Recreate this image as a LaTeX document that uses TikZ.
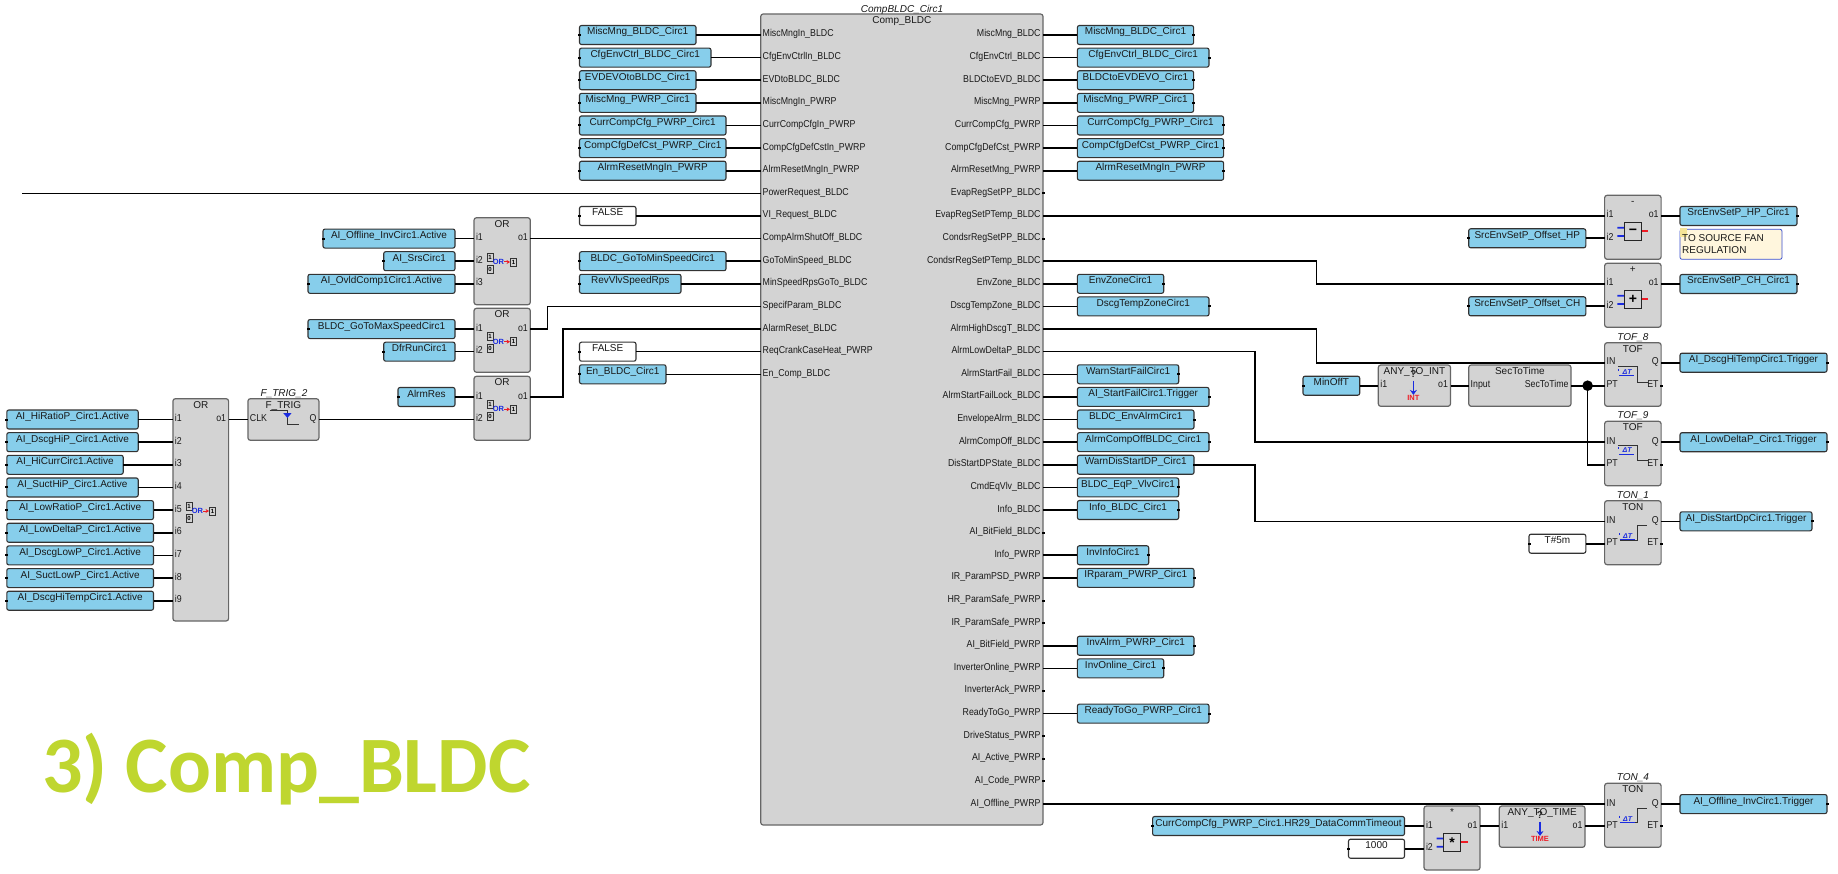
\documentclass[tikz,border=0pt]{standalone}
\usepackage{fontspec}
\setmainfont{Liberation Sans}
\newfontfamily\pinfont[FakeStretch=0.88]{Liberation Sans}
\newfontfamily\hugefont{Carlito}
\usetikzlibrary{arrows.meta}
\definecolor{varblue}{HTML}{87CEEB}
\definecolor{blockgrey}{HTML}{D3D3D3}
\definecolor{titlelime}{HTML}{BFD62F}
\definecolor{notefill}{HTML}{FFF6DD}
\definecolor{noteedge}{HTML}{3A50D0}
\definecolor{iconblue}{HTML}{1A2BE0}
\definecolor{iconred}{HTML}{EE1C25}
\tikzset{
  boxbase/.style={rectangle,rounded corners=2pt,draw=black!80,line width=1.1pt,inner sep=0pt,outer sep=0pt,
     minimum height=19pt,text height=7pt,text depth=7pt,font=\fontsize{10}{11}\selectfont,text=black!90},
  varbox/.style={boxbase,fill=varblue},
  constbox/.style={boxbase,fill=white},
  blockbox/.style={rectangle,rounded corners=2.5pt,draw=black!60,line width=1.2pt,fill=blockgrey,inner sep=0pt,outer sep=0pt},
  pinlab/.style={inner sep=0pt,outer sep=0pt,font=\pinfont\fontsize{10}{11}\selectfont,text=black!90},
  headlab/.style={inner sep=0pt,outer sep=0pt,anchor=base,font=\fontsize{10}{11}\selectfont,text=black!90},
  instlab/.style={headlab,font=\itshape\fontsize{10}{11}\selectfont},
  wire/.style={line width=1.6pt,black,line cap=butt,line join=miter},
  bitbox/.style={rectangle,draw=black!80,fill=blockgrey,line width=.9pt,inner sep=0pt,minimum width=6pt,minimum height=8pt,font=\bfseries\fontsize{6}{6}\selectfont},
  iconlab/.style={inner sep=0pt,outer sep=0pt,font=\bfseries\fontsize{7.5}{8}\selectfont}
}
\newcommand\rw[1]{\fpeval{35+22.62*(#1)}}
\newcommand\pinstub[1]{\fill[black] ([xshift=-1.5pt,yshift=-1pt]#1) rectangle ++(3pt,2pt);}
% name, left, right, y, text
\newcommand\VB[6][varbox]{\node[#1,minimum width={(#4-#3)*1pt}] (#2) at ({(#3+#4)/2},#5) {#6};}
\newcommand\InPin[4]{\coordinate (#1) at (#2,#3); \node[pinlab,anchor=base west] (#1t) at (#2+2,#3+2) {#4};}
\newcommand\OutPin[4]{\coordinate (#1) at (#2,#3); \node[pinlab,anchor=base east] (#1t) at (#2-2.5,#3+2) {#4};}
% name,left,right,top,bottom,head
\newcommand\BLK[6]{\node[blockbox,minimum width={(#3-#2)*1pt},minimum height={(#5-#4)*1pt}] (#1) at ({(#2+#3)/2},{(#4+#5)/2}) {};
  \node[headlab] (#1h) at ({(#2+#3)/2},#4+9.6) {#6};}
\newcommand\Inst[4]{\node[instlab] (#1) at (#2,#3+3.6) {#4};}
\newcommand\ORicon[3]{%
  \node[bitbox] (#1a) at (#2-12,#3-5) {1};
  \node[bitbox] (#1b) at (#2-12,#3+7) {0};
  \node[iconlab,text=iconblue] (#1c) at (#2-3.5,#3) {OR};
  \node[bitbox] (#1d) at (#2+11.5,#3) {1};
  \draw[iconred,line width=1pt,-{Stealth[length=3.5pt,width=4pt]}] (#1c.east) -- (#1d.west);}
\newcommand\DeltaT[3]{%
  \node[inner sep=0pt,font=\bfseries\itshape\fontsize{7}{7}\selectfont,text=iconblue] (#1) at (#2,#3) {ΔT};
  \draw[iconblue,line width=.7pt] (#2-8,#3+3.8) -- (#2+7,#3+3.8) (#2-8.5,#3-3) -- (#2-8.5,#3-1);}
\newcommand\TOFicon[4]{% name,left,top
  \draw[line width=1pt,black!80] (#2+13.7,#3+24) -- (#2+33,#3+24) -- (#2+33,#3+39.6) -- (#2+43,#3+39.6);
  \DeltaT{#1}{#2+22.5}{#3+29}}
\newcommand\TONicon[3]{%
  \draw[line width=1pt,black!80] (#2+15.4,#3+39.3) -- (#2+33,#3+39.3) -- (#2+33,#3+25) -- (#2+42,#3+25);
  \DeltaT{#1}{#2+23}{#3+35.3}}
\newcommand\ANYicon[4]{% name,cx,top,label
  \node[inner sep=0pt,font=\bfseries\fontsize{10}{10}\selectfont,text=black!85] (#1q) at (#2-1,#3+9) {?};
  \coordinate (#1s) at (#2-1,#3+15.5);
  \node[iconlab,text=iconred] (#1l) at (#2-1,#3+32.5) {#4};
  \draw[iconblue,line width=1.3pt,-{Stealth[length=5pt,width=7pt]}] (#1s) -- (#1l.north);}
\newcommand\MATHicon[4]{% name,cx,top,symbol
  \fill[iconblue] (#2-15.5,#3+31.6) rectangle (#2-7,#3+33.4) (#2-15.5,#3+39.9) rectangle (#2-7,#3+41.7);
  \fill[iconred] (#2+8,#3+35.1) rectangle (#2+15.5,#3+37.1);
  \node[rectangle,draw=black!85,fill=blockgrey,line width=1pt,inner sep=0pt,minimum width=16.5pt,minimum height=17.5pt,font=\bfseries\fontsize{14}{14}\selectfont] (#1) at (#2,#3+36.4) {#4};}
\begin{document}\catcode`\_=12
\begin{tikzpicture}[x=1pt,y=-1pt]
\useasboundingbox (0,0) rectangle (1838,874);
\fill[white] (0,0) rectangle (1838,874);

% ---- main block
\BLK{main}{760.7}{1043}{14}{825}{Comp_BLDC}
\Inst{maininst}{902}{9}{CompBLDC_Circ1}
\foreach \n/\t in {0/MiscMngIn_BLDC,1/CfgEnvCtrlIn_BLDC,2/EVDtoBLDC_BLDC,3/MiscMngIn_PWRP,4/CurrCompCfgIn_PWRP,5/CompCfgDefCstIn_PWRP,6/AlrmResetMngIn_PWRP,7/PowerRequest_BLDC,8/VI_Request_BLDC,9/CompAlrmShutOff_BLDC,10/GoToMinSpeed_BLDC,11/MinSpeedRpsGoTo_BLDC,12/SpecifParam_BLDC,13/AlarmReset_BLDC,14/ReqCrankCaseHeat_PWRP,15/En_Comp_BLDC}
  {\InPin{mi\n}{760.7}{\rw{\n}}{\t}}
\foreach \n/\t in {0/MiscMng_BLDC,1/CfgEnvCtrl_BLDC,2/BLDCtoEVD_BLDC,3/MiscMng_PWRP,4/CurrCompCfg_PWRP,5/CompCfgDefCst_PWRP,6/AlrmResetMng_PWRP,7/EvapRegSetPP_BLDC,8/EvapRegSetPTemp_BLDC,9/CondsrRegSetPP_BLDC,10/CondsrRegSetPTemp_BLDC,11/EnvZone_BLDC,12/DscgTempZone_BLDC,13/AlrmHighDscgT_BLDC,14/AlrmLowDeltaP_BLDC,15/AlrmStartFail_BLDC,16/AlrmStartFailLock_BLDC,17/EnvelopeAlrm_BLDC,18/AlrmCompOff_BLDC,19/DisStartDPState_BLDC,20/CmdEqVlv_BLDC,21/Info_BLDC,22/AI_BitField_BLDC,23/Info_PWRP,24/IR_ParamPSD_PWRP,25/HR_ParamSafe_PWRP,26/IR_ParamSafe_PWRP,27/AI_BitField_PWRP,28/InverterOnline_PWRP,29/InverterAck_PWRP,30/ReadyToGo_PWRP,31/DriveStatus_PWRP,32/AI_Active_PWRP,33/AI_Code_PWRP,34/AI_Offline_PWRP}
  {\OutPin{mo\n}{1043}{\rw{\n}}{\t}}
\foreach \n in {7,9,22,25,26,29,31,32,33} {\pinstub{mo\n}}

% ---- left boxes of main block
\foreach \n/\r/\t in {0/696/MiscMng_BLDC_Circ1,1/711/CfgEnvCtrl_BLDC_Circ1,2/696/EVDEVOtoBLDC_Circ1,3/696/MiscMng_PWRP_Circ1,4/726/CurrCompCfg_PWRP_Circ1,5/726/CompCfgDefCst_PWRP_Circ1,6/726/AlrmResetMngIn_PWRP,10/726/BLDC_GoToMinSpeedCirc1,11/681/RevVlvSpeedRps,15/666/En_BLDC_Circ1}
  {\VB{lb\n}{579.5}{\r}{\rw{\n}}{\t}
   \pinstub{lb\n.west}
   \draw[wire] (lb\n.east) -- (mi\n);}
\foreach \n in {8,14}
  {\VB[constbox]{lb\n}{579.5}{636}{\rw{\n}}{FALSE}
   \pinstub{lb\n.west}
   \draw[wire] (lb\n.east) -- (mi\n);}
\coordinate (pwrstart) at (22,\rw{7});
\draw[wire] (pwrstart) -- (mi7);

% ---- right boxes of main block
\foreach \n/\r/\t in {0/1193.6/MiscMng_BLDC_Circ1,1/1209/CfgEnvCtrl_BLDC_Circ1,2/1193.6/BLDCtoEVDEVO_Circ1,3/1193.6/MiscMng_PWRP_Circ1,4/1223.6/CurrCompCfg_PWRP_Circ1,5/1223.6/CompCfgDefCst_PWRP_Circ1,6/1223.6/AlrmResetMngIn_PWRP,11/1163.7/EnvZoneCirc1,12/1209/DscgTempZoneCirc1,15/1178.7/WarnStartFailCirc1,16/1209/AI_StartFailCirc1.Trigger,17/1194/BLDC_EnvAlrmCirc1,18/1209/AlrmCompOffBLDC_Circ1,19/1194/WarnDisStartDP_Circ1,20/1178.7/BLDC_EqP_VlvCirc1,21/1178.7/Info_BLDC_Circ1,23/1148.7/InvInfoCirc1,24/1194/IRparam_PWRP_Circ1,27/1194/InvAlrm_PWRP_Circ1,28/1163.7/InvOnline_Circ1,30/1209/ReadyToGo_PWRP_Circ1}
  {\VB{rb\n}{1077.4}{\r}{\rw{\n}}{\t}
   \pinstub{rb\n.east}
   \draw[wire] (mo\n) -- (rb\n.west);}

% ---- OR blocks
\BLK{ora}{474}{530.3}{217.7}{304.7}{OR}
\InPin{oai1}{474}{\rw{9}}{i1} \InPin{oai2}{474}{\rw{10}}{i2} \InPin{oai3}{474}{\rw{11}}{i3} \OutPin{oao1}{530.3}{\rw{9}}{o1}
\ORicon{oaic}{502}{262}
\VB{oav1}{323}{455}{\rw{9}}{AI_Offline_InvCirc1.Active} \pinstub{oav1.west}
\VB{oav2}{383.7}{455}{\rw{10}}{AI_SrsCirc1} \pinstub{oav2.west}
\VB{oav3}{308}{455}{\rw{11}}{AI_OvldComp1Circ1.Active} \pinstub{oav3.west}
\draw[wire] (oav1.east) -- (oai1);
\draw[wire] (oav2.east) -- (oai2);
\draw[wire] (oav3.east) -- (oai3);
\draw[wire] (oao1) -- (mi9);

\BLK{orb}{474}{530.3}{308.3}{372.3}{OR}
\InPin{obi1}{474}{\rw{13}}{i1} \InPin{obi2}{474}{\rw{14}}{i2} \OutPin{obo1}{530.3}{\rw{13}}{o1}
\ORicon{obic}{502}{341.7}
\VB{obv1}{308}{455}{\rw{13}}{BLDC_GoToMaxSpeedCirc1} \pinstub{obv1.west}
\VB{obv2}{383.7}{455}{\rw{14}}{DfrRunCirc1} \pinstub{obv2.west}
\draw[wire] (obv1.east) -- (obi1);
\draw[wire] (obv2.east) -- (obi2);
\coordinate (obk1) at (547.3,\rw{13});
\coordinate (obk2) at (547.3,\rw{12});
\draw[wire] (obo1) -- (obk1) -- (obk2) -- (mi12);

\BLK{orc}{474}{530.3}{376.3}{440.3}{OR}
\InPin{oci1}{474}{397}{i1} \InPin{oci2}{474}{419.5}{i2} \OutPin{oco1}{530.3}{397}{o1}
\ORicon{ocic}{502}{409.3}
\VB{ocv1}{398}{455}{397}{AlrmRes} \pinstub{ocv1.west}
\draw[wire] (ocv1.east) -- (oci1);
\coordinate (ock1) at (562.7,397);
\coordinate (ock2) at (562.7,\rw{13});
\draw[wire] (oco1) -- (ock1) -- (ock2) -- (mi13);

% ---- big OR and F_TRIG
\BLK{ord}{172.9}{228.6}{398.7}{621}{OR}
\ORicon{odic}{201}{511}
\OutPin{odo1}{228.6}{419.5}{o1}
\foreach \n/\r/\t in {1/138.2/AI_HiRatioP_Circ1.Active,2/138.2/AI_DscgHiP_Circ1.Active,3/123.2/AI_HiCurrCirc1.Active,4/138.2/AI_SuctHiP_Circ1.Active,5/153.5/AI_LowRatioP_Circ1.Active,6/153.5/AI_LowDeltaP_Circ1.Active,7/153.5/AI_DscgLowP_Circ1.Active,8/153.5/AI_SuctLowP_Circ1.Active,9/153.5/AI_DscgHiTempCirc1.Active}
  {\InPin{odi\n}{172.9}{\fpeval{419.5+22.65*(\n-1)}}{i\n}
   \VB{odv\n}{6.8}{\r}{\fpeval{419.5+22.65*(\n-1)}}{\t}
   \pinstub{odv\n.west}
   \draw[wire] (odv\n.east) -- (odi\n);}
\BLK{ftr}{247.9}{318.9}{398.7}{440.3}{F_TRIG}
\Inst{ftrinst}{284}{392.7}{F_TRIG_2}
\InPin{ftclk}{247.9}{419.5}{CLK} \OutPin{ftq}{318.9}{419.5}{Q}
\draw[line width=1pt,black!80] (269.5,410) -- (287.4,410) -- (287.4,424) -- (298.5,424);
\fill[iconblue] (283.2,413) -- (291.6,413) -- (287.4,418) -- cycle;
\draw[wire] (odo1) -- (ftclk);
\draw[wire] (ftq) -- (oci2);

% ---- subtraction block
\BLK{sub}{1604.6}{1661.1}{195.3}{259.3}{-}
\InPin{subi1}{1604.6}{\rw{8}}{i1} \InPin{subi2}{1604.6}{238.3}{i2} \OutPin{subo1}{1661.1}{\rw{8}}{o1}
\MATHicon{subic}{1632.9}{195.3}{−}
\VB{subv}{1468.7}{1585.8}{238.3}{SrcEnvSetP_Offset_HP} \pinstub{subv.west}
\VB{subr}{1680}{1797}{\rw{8}}{SrcEnvSetP_HP_Circ1} \pinstub{subr.east}
\draw[wire] (mo8) -- (subi1);
\draw[wire] (subv.east) -- (subi2);
\draw[wire] (subo1) -- (subr.west);
\node[rectangle,rounded corners=2pt,draw=noteedge,fill=notefill,line width=.8pt,inner sep=0pt,outer sep=0pt,minimum width=102pt,minimum height=30pt] (note) at (1731,244.3) {};
\fill[yellow!25!notefill!85!brown] (1680,228.5) rectangle (1687,237);
\node[inner sep=0pt,anchor=base west,font=\fontsize{10}{11}\selectfont,text=black!90] (notea) at (1682,241.6) {TO SOURCE FAN};
\node[inner sep=0pt,anchor=base west,font=\fontsize{10}{11}\selectfont,text=black!90] (noteb) at (1682,253.6) {REGULATION};

% ---- addition block
\BLK{add}{1604.6}{1661.1}{263.3}{327.3}{+}
\InPin{addi1}{1604.6}{284}{i1} \InPin{addi2}{1604.6}{306.3}{i2} \OutPin{addo1}{1661.1}{284}{o1}
\MATHicon{addic}{1632.9}{263.3}{+}
\VB{addv}{1468.7}{1585.8}{306.3}{SrcEnvSetP_Offset_CH} \pinstub{addv.west}
\VB{addr}{1680}{1797}{284}{SrcEnvSetP_CH_Circ1} \pinstub{addr.east}
\coordinate (addk1) at (1316.3,\rw{10});
\coordinate (addk2) at (1316.3,284);
\draw[wire] (mo10) -- (addk1) -- (addk2) -- (addi1);
\draw[wire] (addv.east) -- (addi2);
\draw[wire] (addo1) -- (addr.west);

% ---- TOF_8
\BLK{toa}{1604.6}{1661.1}{342.7}{406.3}{TOF}
\Inst{toainst}{1632.9}{336.7}{TOF_8}
\InPin{toain}{1604.6}{362.7}{IN} \InPin{toapt}{1604.6}{385.7}{PT} \OutPin{toaq}{1661.1}{362.7}{Q} \OutPin{toaet}{1661.1}{385.7}{ET}
\TOFicon{toaic}{1604.6}{342.7}{}
\pinstub{toaet}
\VB{toar}{1680}{1827}{362.7}{AI_DscgHiTempCirc1.Trigger} \pinstub{toar.east}
\coordinate (toak1) at (1316.3,\rw{13});
\coordinate (toak2) at (1316.3,362.7);
\draw[wire] (mo13) -- (toak1) -- (toak2) -- (toain);
\draw[wire] (toaq) -- (toar.west);

% ---- TOF_9
\BLK{tob}{1604.6}{1661.1}{421.3}{485.7}{TOF}
\Inst{tobinst}{1632.9}{415.3}{TOF_9}
\InPin{tobin}{1604.6}{442.2}{IN} \InPin{tobpt}{1604.6}{464.7}{PT} \OutPin{tobq}{1661.1}{442.2}{Q} \OutPin{tobet}{1661.1}{464.7}{ET}
\TOFicon{tobic}{1604.6}{421.3}{}
\pinstub{tobet}
\VB{tobr}{1680}{1827}{442.2}{AI_LowDeltaP_Circ1.Trigger} \pinstub{tobr.east}
\coordinate (tobk1) at (1255,\rw{14});
\coordinate (tobk2) at (1255,442.2);
\draw[wire] (mo14) -- (tobk1) -- (tobk2) -- (tobin);
\draw[wire] (tobq) -- (tobr.west);

% ---- TON_1
\BLK{tna}{1604.6}{1661.1}{500.7}{564.7}{TON}
\Inst{tnainst}{1632.9}{494.7}{TON_1}
\InPin{tnain}{1604.6}{521.3}{IN} \InPin{tnapt}{1604.6}{543.7}{PT} \OutPin{tnaq}{1661.1}{521.3}{Q} \OutPin{tnaet}{1661.1}{543.7}{ET}
\TONicon{tnaic}{1604.6}{500.7}
\pinstub{tnaet}
\VB{tnar}{1680}{1812}{521.3}{AI_DisStartDpCirc1.Trigger} \pinstub{tnar.east}
\VB[constbox]{tnac}{1529}{1585.8}{543.7}{T\#5m} \pinstub{tnac.west}
\coordinate (tnak1) at (1255,\rw{19});
\coordinate (tnak2) at (1255,521.3);
\draw[wire] (rb19.east) -- (tnak1) -- (tnak2) -- (tnain);
\draw[wire] (tnac.east) -- (tnapt);
\draw[wire] (tnaq) -- (tnar.west);

% ---- MinOffT chain
\VB{minoff}{1303}{1359.7}{385.7}{MinOffT} \pinstub{minoff.west}
\BLK{anyi}{1378.3}{1450.5}{365}{406.3}{ANY_TO_INT}
\InPin{anyii}{1378.3}{385.7}{i1} \OutPin{anyio}{1450.5}{385.7}{o1}
\ANYicon{anyiic}{1414.4}{365}{INT}
\BLK{sect}{1468.7}{1571}{365}{406.3}{SecToTime}
\InPin{secti}{1468.7}{385.7}{Input} \OutPin{secto}{1571}{385.7}{SecToTime}
\draw[wire] (minoff.east) -- (anyii);
\draw[wire] (anyio) -- (secti);
\coordinate (jn) at (1587.6,385.7);
\coordinate (jnk) at (1587.6,464.7);
\draw[wire] (secto) -- (jn) -- (toapt);
\draw[wire] (jn) -- (jnk) -- (tobpt);
\fill[black] (jn) circle (5.3pt);

% ---- bottom chain
\BLK{mul}{1424}{1480}{806}{870}{*}
\InPin{muli1}{1424}{826}{i1} \InPin{muli2}{1424}{848.7}{i2} \OutPin{mulo}{1480}{826}{o1}
\MATHicon{mulic}{1452}{806}{*}
\VB{mulv}{1152.6}{1404.5}{826}{CurrCompCfg_PWRP_Circ1.HR29_DataCommTimeout} \pinstub{mulv.west}
\VB[constbox]{mulc}{1348.5}{1404.5}{848.7}{1000} \pinstub{mulc.west}
\draw[wire] (mulv.east) -- (muli1);
\draw[wire] (mulc.east) -- (muli2);
\BLK{anyt}{1499.3}{1585}{806}{847.3}{ANY_TO_TIME}
\InPin{anyti}{1499.3}{826}{i1} \OutPin{anyto}{1585}{826}{o1}
\ANYicon{anytic}{1541}{806}{TIME}
\draw[wire] (mulo) -- (anyti);
\BLK{tnb}{1604.6}{1661.1}{783.3}{847.3}{TON}
\Inst{tnbinst}{1632.9}{777.3}{TON_4}
\InPin{tnbin}{1604.6}{\rw{34}}{IN} \InPin{tnbpt}{1604.6}{826}{PT} \OutPin{tnbq}{1661.1}{\rw{34}}{Q} \OutPin{tnbet}{1661.1}{826}{ET}
\TONicon{tnbic}{1604.6}{783.3}
\pinstub{tnbet}
\VB{tnbr}{1680}{1827}{\rw{34}}{AI_Offline_InvCirc1.Trigger} \pinstub{tnbr.east}
\draw[wire] (anyto) -- (tnbpt);
\draw[wire] (mo34) -- (tnbin);
\draw[wire] (tnbq) -- (tnbr.west);

% ---- big title
\node[inner sep=0pt,anchor=base west,font=\hugefont\bfseries\fontsize{80}{80}\selectfont,text=titlelime] (bigtitle) at (42,792.7) {3) Comp_BLDC};
\end{tikzpicture}
\end{document}
